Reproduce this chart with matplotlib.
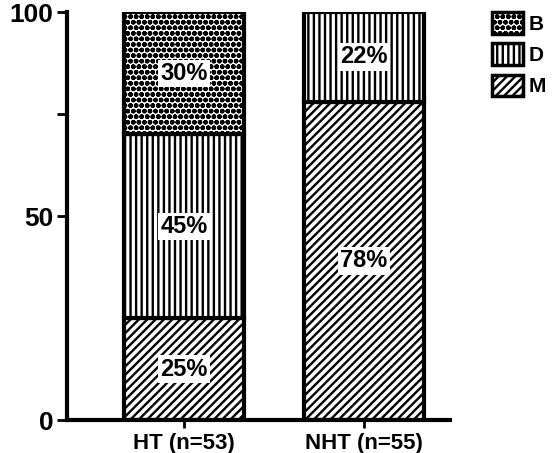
import matplotlib
matplotlib.use('Agg')
import matplotlib.pyplot as plt
from matplotlib.patches import Patch

# data
groups = ['HT (n=53)', 'NHT (n=55)']
cat_names = ['M', 'D', 'B']
M_vals = [25, 78]
D_vals = [45, 22]
B_vals = [30, 0]
hatches = {'M': '////', 'D': '|||', 'B': 'ooo'}

plt.rcParams['font.family'] = ['Liberation Sans', 'DejaVu Sans']
plt.rcParams['font.weight'] = 'bold'
plt.rcParams['hatch.linewidth'] = 1.7
plt.rcParams['hatch.color'] = 'black'

fig = plt.figure(figsize=(5.55, 4.53), dpi=100)
ax = fig.add_axes([0.121, 0.0728, 0.69, 0.9007])

x = [0, 1]
width = 0.667
series = {'M': M_vals, 'D': D_vals, 'B': B_vals}
bottom = [0, 0]
for name in cat_names:
    vals = series[name]
    for i in range(len(x)):
        if vals[i] == 0:
            continue
        ax.bar(x[i], vals[i], width, bottom=bottom[i], color='white',
               edgecolor='black', linewidth=3, hatch=hatches[name])
        ax.text(x[i], bottom[i] + vals[i] / 2.0, '%d%%' % vals[i],
                ha='center', va='center', fontsize=17, fontweight='bold',
                bbox=dict(facecolor='white', edgecolor='none', pad=1.5))
        bottom[i] += vals[i]

ax.set_xlim(-0.65, 1.478)
ax.set_ylim(0, 100)
ax.set_yticks([0, 50, 100])
ax.set_yticks([75], minor=True)
ax.set_xticks(x)
ax.set_xticklabels(groups)
ax.tick_params(axis='y', which='both', width=2, length=7, labelsize=19, pad=3)
ax.tick_params(axis='x', width=2, length=6, labelsize=16, pad=3)
for s in ['top', 'right']:
    ax.spines[s].set_visible(False)
ax.spines['left'].set_linewidth(3)
ax.spines['bottom'].set_linewidth(3)

handles = [Patch(facecolor='white', edgecolor='black', linewidth=2.5, hatch=hatches[n])
           for n in ['B', 'D', 'M']]
fig.legend(handles, ['B', 'D', 'M'], loc='upper left',
           bbox_to_anchor=(482 / 555.0, 1 - 2 / 453.0), borderpad=0,
           frameon=False, handlelength=1.45, handleheight=1.2, labelspacing=0.45,
           handletextpad=0.3, fontsize=15)

fig.savefig('out.png', dpi=100)
